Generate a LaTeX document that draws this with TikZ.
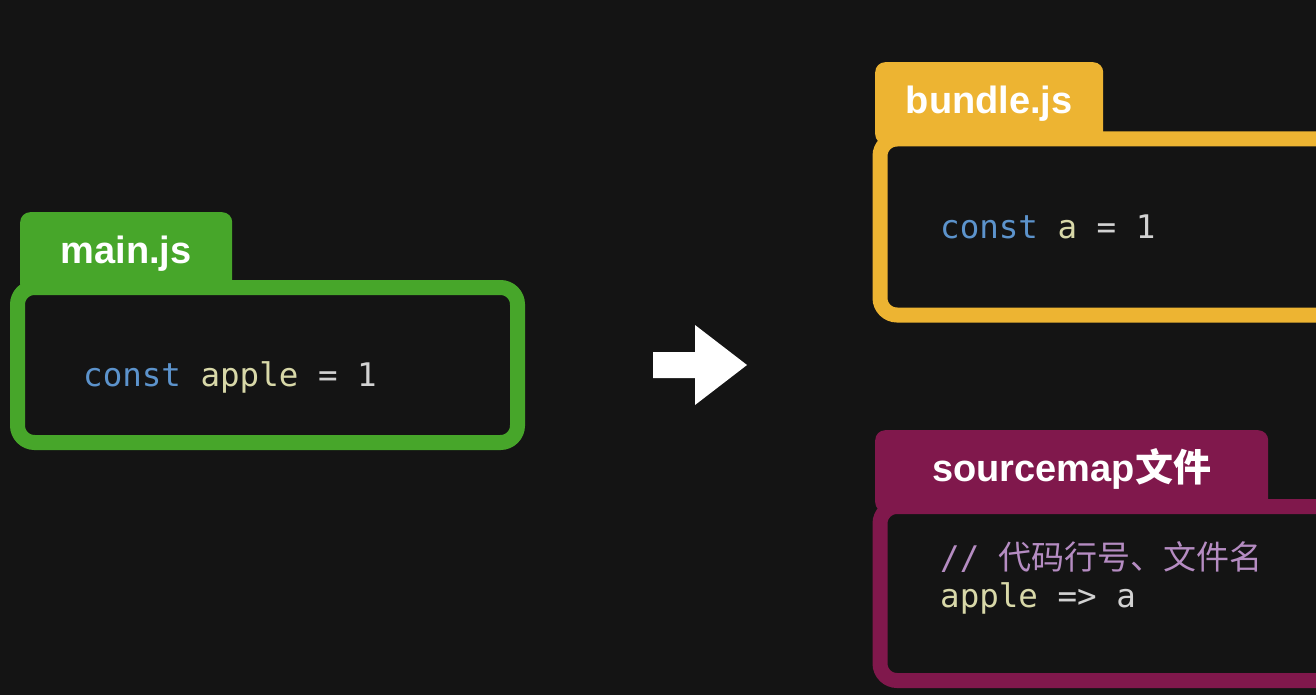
\documentclass[tikz,border=0pt]{standalone}
\usepackage{fontspec}
\setmainfont{Liberation Sans}
\setmonofont{DejaVu Sans Mono}
\newfontfamily\cjk{Noto Sans CJK SC}
\usetikzlibrary{positioning}
\definecolor{bgdark}{HTML}{141414}
\definecolor{jsgreen}{HTML}{47A62A}
\definecolor{jsyellow}{HTML}{EDB432}
\definecolor{mapred}{HTML}{80184C}
\definecolor{kwblue}{HTML}{5C93CC}
\definecolor{varyellow}{HTML}{D8D8A8}
\definecolor{plaingray}{HTML}{D2D2D2}
\definecolor{cmtpurple}{HTML}{B58CC2}

\begin{document}
\begin{tikzpicture}[x=1pt,y=-1pt,
  tab/.style={rectangle, rounded corners=10pt, inner sep=0pt, minimum height=82pt,
    anchor=north west, text=white, text height=28pt, text depth=8pt,
    font=\fontsize{38}{40}\selectfont\bfseries},
  frame/.style={rectangle, rounded corners=17pt, line width=15pt, fill=bgdark,
    inner sep=0pt, minimum width=500pt},
  code/.style={anchor=base west, inner sep=0pt, text=plaingray,
    font=\fontsize{32.5}{40}\selectfont\ttfamily}]
\fill[bgdark] (0,0) rectangle (1316,695);
\useasboundingbox (0,0) rectangle (1316,695);

% source file
\node[tab, fill=jsgreen, minimum width=212pt] (maintab) at (20,212) {main.js};
\node[frame, draw=jsgreen, minimum height=155pt] (mainbox) at (267.5,365) {};
\node[code] (maincode) at (83,386)
  {\textcolor{kwblue}{const} \textcolor{varyellow}{apple} = 1};

% arrow
\fill[white] (653,352) -- (695,352) -- (695,325) -- (747,365) -- (695,405)
  -- (695,378) -- (653,378) -- cycle;

% output bundle
\node[tab, fill=jsyellow, minimum width=228pt] (bundletab) at (875,62) {bundle.js};
\node[frame, draw=jsyellow, minimum height=176pt] (bundlebox) at (1130,227) {};
\node[code] (bundlecode) at (940,238)
  {\textcolor{kwblue}{const} \textcolor{varyellow}{a} = 1};

% sourcemap
\node[tab, fill=mapred, minimum width=393pt] (maptab) at (875,430)
  {sourcemap{\cjk\bfseries 文件}};
\node[frame, draw=mapred, minimum height=174pt] (mapbox) at (1130,593.5) {};
\node[code, text=cmtpurple] (mapnote) at (940,569)
  {// {\cjk\fontsize{33}{40}\selectfont 代码行号、文件名}};
\node[code] (mapline) at (940,607)
  {\textcolor{varyellow}{apple} => a};
\end{tikzpicture}
\end{document}
